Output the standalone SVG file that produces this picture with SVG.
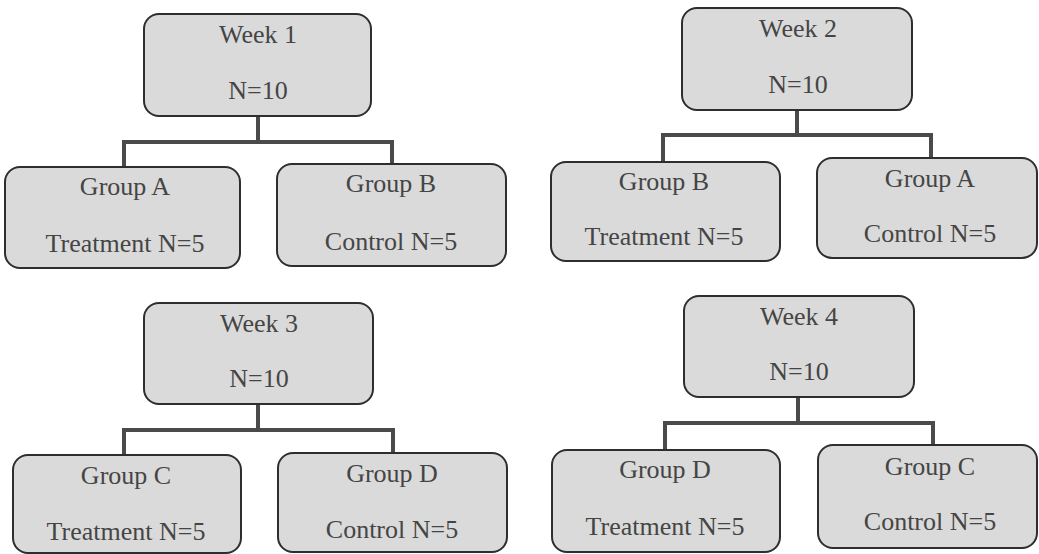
<svg xmlns="http://www.w3.org/2000/svg" width="1039" height="554" viewBox="0 0 1039 554">
<style>
.box{fill:#dadada;stroke:#2e2e2e;stroke-width:2}
.t{font-family:'Liberation Serif','Times New Roman','DejaVu Serif',serif;font-size:26px;fill:#454545;text-anchor:middle}
.c{fill:none;stroke:#4a4a4a;stroke-width:4;stroke-linejoin:miter}
</style>
<rect width="1039" height="554" fill="#ffffff"/>
<g id="connectors">
<path class="c" d="M258 116 V142 M124 167 V142 H392 V164"/>
<path class="c" d="M797 110 V135 M663 162 V135 H931 V158"/>
<path class="c" d="M258 404 V430 M124 455 V430 H393 V453"/>
<path class="c" d="M798 397 V423 M665 450 V423 H933 V446"/>
</g>
<g id="week1">
<rect class="box" x="144" y="14" width="227" height="102" rx="15"/>
<text class="t" x="258" y="43">Week 1</text>
<text class="t" x="258" y="99">N=10</text>
</g>
<g id="w1-groupA">
<rect class="box" x="5" y="167" width="235" height="101" rx="15"/>
<text class="t" x="125" y="195">Group A</text>
<text class="t" x="125" y="252">Treatment N=5</text>
</g>
<g id="w1-groupB">
<rect class="box" x="277" y="164" width="229" height="102" rx="15"/>
<text class="t" x="391" y="192">Group B</text>
<text class="t" x="391" y="250">Control N=5</text>
</g>
<g id="week2">
<rect class="box" x="682" y="8" width="230" height="102" rx="15"/>
<text class="t" x="798" y="37">Week 2</text>
<text class="t" x="798" y="93">N=10</text>
</g>
<g id="w2-groupB">
<rect class="box" x="551" y="162" width="229" height="99" rx="15"/>
<text class="t" x="664" y="190">Group B</text>
<text class="t" x="664" y="245">Treatment N=5</text>
</g>
<g id="w2-groupA">
<rect class="box" x="817" y="158" width="220" height="100" rx="15"/>
<text class="t" x="930" y="187">Group A</text>
<text class="t" x="930" y="242">Control N=5</text>
</g>
<g id="week3">
<rect class="box" x="144" y="303" width="229" height="101" rx="15"/>
<text class="t" x="259" y="332">Week 3</text>
<text class="t" x="259" y="387">N=10</text>
</g>
<g id="w3-groupC">
<rect class="box" x="13" y="455" width="228" height="98" rx="15"/>
<text class="t" x="126" y="484">Group C</text>
<text class="t" x="126" y="540">Treatment N=5</text>
</g>
<g id="w3-groupD">
<rect class="box" x="278" y="453" width="229" height="99" rx="15"/>
<text class="t" x="392" y="482">Group D</text>
<text class="t" x="392" y="538">Control N=5</text>
</g>
<g id="week4">
<rect class="box" x="684" y="296" width="230" height="101" rx="15"/>
<text class="t" x="799" y="325">Week 4</text>
<text class="t" x="799" y="380">N=10</text>
</g>
<g id="w4-groupD">
<rect class="box" x="552" y="450" width="228" height="102" rx="15"/>
<text class="t" x="665" y="478">Group D</text>
<text class="t" x="665" y="535">Treatment N=5</text>
</g>
<g id="w4-groupC">
<rect class="box" x="818" y="445" width="219" height="103" rx="15"/>
<text class="t" x="930" y="475">Group C</text>
<text class="t" x="930" y="530">Control N=5</text>
</g>
</svg>
